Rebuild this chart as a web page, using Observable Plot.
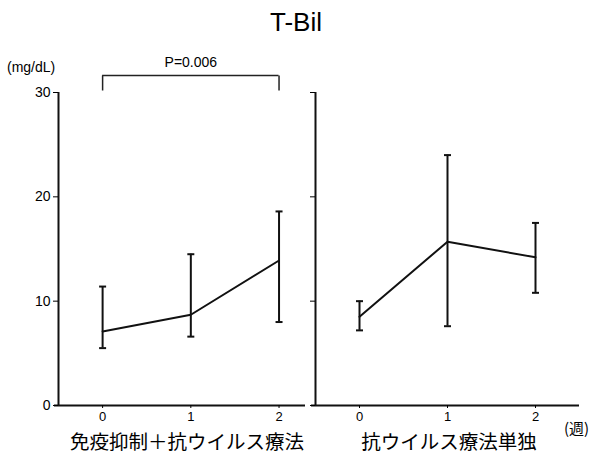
<!DOCTYPE html>
<html>
<head>
<meta charset="utf-8">
<script src="https://cdn.jsdelivr.net/npm/d3@7"></script>
<script src="https://cdn.jsdelivr.net/npm/@observablehq/plot@0.6"></script>
<style>
  html, body { margin: 0; padding: 0; background: #fff; }
  #chart { position: relative; width: 607px; height: 455px; font-family: "Liberation Sans", Arial, sans-serif; color: #000; }
  #chart svg { position: absolute; top: 0; overflow: visible; }
  .lbl { position: absolute; white-space: nowrap; line-height: 1; }
  .jp { font-family: "Noto Sans CJK JP", sans-serif; }
</style>
</head>
<body>
<div id="chart"></div>
<script>
// T-Bil (mg/dL), mean with range, by week
const weeks = [0, 1, 2];
const groups = ["免疫抑制＋抗ウイルス療法", "抗ウイルス療法単独"];
const meanCombo = [7.1, 8.7, 13.9];
const lowCombo  = [5.5, 6.6, 8.0];
const highCombo = [11.4, 14.5, 18.6];
const meanMono  = [8.5, 15.7, 14.2];
const lowMono   = [7.2, 7.6, 10.8];
const highMono  = [10.0, 24.0, 17.5];
const yTicks = [0, 10, 20, 30];
const pTest = [{from: 0, to: 2, label: "P=0.006"}];

const rows = (mean, lo, hi) => weeks.map((w, i) => ({week: w, mean: mean[i], lo: lo[i], hi: hi[i]}));
const combo = rows(meanCombo, lowCombo, highCombo);
const mono = rows(meanMono, lowMono, highMono);

// short horizontal stroke used for error bar caps
const hbar = {draw(ctx, size) { const r = Math.sqrt(size / Math.PI); ctx.moveTo(-r, 0); ctx.lineTo(r, 0); }};
// short vertical stroke used for the bracket legs
const vbar = {draw(ctx, size) { const r = Math.sqrt(size / Math.PI); ctx.moveTo(0, -r); ctx.lineTo(0, r); }};

function panel(data, opts) {
  const marks = [
    Plot.ruleY([0], {stroke: "#111", strokeWidth: 2, insetLeft: -4}),
    Plot.ruleX([opts.xDomain[0]], {stroke: "#111", strokeWidth: 2}),
    Plot.axisY({ticks: yTicks, tickSize: 5, tickPadding: 3, fontSize: 14, label: null,
      tickFormat: opts.yLabels ? d => d : () => ""}),
    Plot.axisX({ticks: weeks, tickSize: 3, tickPadding: 3, fontSize: 13, label: null, tickFormat: d => d}),
    Plot.ruleX(data, {x: "week", y1: "lo", y2: "hi", stroke: "#111", strokeWidth: 2}),
    Plot.dot(data, {x: "week", y: "lo", symbol: hbar, r: 3.5, stroke: "#111", strokeWidth: 2}),
    Plot.dot(data, {x: "week", y: "hi", symbol: hbar, r: 3.5, stroke: "#111", strokeWidth: 2}),
    Plot.line(data, {x: "week", y: "mean", stroke: "#111", strokeWidth: 2})
  ];
  if (opts.bracket) {
    marks.push(
      Plot.ruleY(opts.bracket, {y: () => 30, x1: "from", x2: "to", dy: -17, stroke: "#222", strokeWidth: 1.5}),
      Plot.dot(opts.bracket.flatMap(b => [b.from, b.to]), {x: d => d, y: () => 30, dy: -9.5, r: 7.5, symbol: vbar, stroke: "#222", strokeWidth: 1.5}),
      Plot.text(opts.bracket, {x: d => (d.from + d.to) / 2, y: () => 30, dy: -30, text: "label", fontSize: 14})
    );
  }
  const svg = Plot.plot({
    width: opts.width,
    height: 455,
    marginLeft: opts.marginLeft,
    marginRight: opts.marginRight,
    marginTop: 92,
    marginBottom: 50,
    style: {fontFamily: "Liberation Sans, Arial, sans-serif", color: "#000", background: "transparent", overflow: "visible"},
    x: {domain: opts.xDomain, axis: null},
    y: {domain: [0, 30], axis: null},
    marks
  });
  svg.style.left = opts.left + "px";
  return svg;
}

const chart = document.getElementById("chart");
chart.append(
  panel(combo, {left: 0, width: 310, marginLeft: 58, marginRight: 5, xDomain: [-0.5, 2.3], yLabels: true, bracket: pTest}),
  panel(mono, {left: 310, width: 297, marginLeft: 5, marginRight: 28, xDomain: [-0.5, 2.5], yLabels: false})
);

function label(text, x, y, size, cls, anchor = "middle") {
  const el = document.createElement("div");
  el.className = "lbl " + (cls || "");
  el.textContent = text;
  el.style.fontSize = size + "px";
  el.style.top = y + "px";
  if (anchor === "middle") { el.style.left = x + "px"; el.style.transform = "translateX(-50%)"; }
  else el.style.left = x + "px";
  chart.append(el);
}
label("T-Bil", 296, 9, 26);
label("(mg/dL)", 7, 60, 14, "", "start");
label(groups[0], 187, 431, 19.5, "jp");
label(groups[1], 449, 431, 19.5, "jp");
label("(週)", 564, 420, 15, "jp", "start");
</script>
</body>
</html>
